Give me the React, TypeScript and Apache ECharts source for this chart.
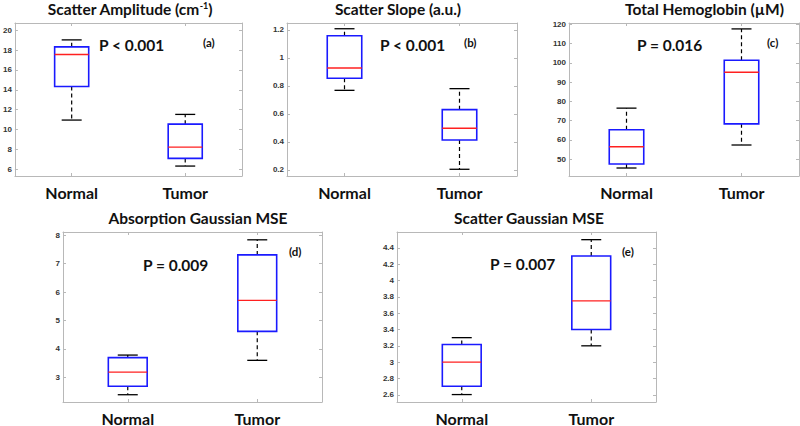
import React, { useEffect, useRef } from "react";
import * as echarts from "echarts";

const categories = ["Normal", "Tumor"];

// Box statistics: [lower whisker, Q1, median, Q3, upper whisker]
const scatterAmplitudeNormal = [10.96, 14.34, 17.56, 18.33, 19.03];
const scatterAmplitudeTumor = [6.33, 7.1, 8.24, 10.55, 11.53];
const scatterSlopeNormal = [0.769, 0.855, 0.929, 1.159, 1.209];
const scatterSlopeTumor = [0.205, 0.414, 0.498, 0.631, 0.781];
const totalHemoglobinNormal = [45.35, 47.4, 56.4, 65.2, 76.45];
const totalHemoglobinTumor = [57.3, 68.3, 95.1, 101.3, 117.6];
const absorptionMseNormal = [2.39, 2.69, 3.185, 3.694, 3.785];
const absorptionMseTumor = [3.6, 4.62, 5.71, 7.31, 7.84];
const scatterMseNormal = [2.603, 2.705, 3.0, 3.217, 3.3];
const scatterMseTumor = [3.2, 3.4, 3.75, 4.3, 4.5];

// Tick labels
const amplitudeTicks = [6, 8, 10, 12, 14, 16, 18, 20];
const slopeTicks = [0.2, 0.4, 0.6, 0.8, 1, 1.2];
const hemoglobinTicks = [50, 60, 70, 80, 90, 100, 110, 120];
const absorptionTicks = [3, 4, 5, 6, 7, 8];
const scatterMseTicks = [2.6, 2.8, 3, 3.2, 3.4, 3.6, 3.8, 4, 4.2, 4.4];

// Axis ranges
const amplitudeRange = [5.33, 20.73];
const slopeRange = [0.157, 1.25];
const hemoglobinRange = [41.2, 120.67];
const absorptionRange = [2.134, 8.115];
const scatterMseRange = [2.512, 4.594];

const titles = [
  "Scatter Amplitude (cm{sup|-1})",
  "Scatter Slope (a.u.)",
  "Total Hemoglobin (\u00b5M)",
  "Absorption Gaussian MSE",
  "Scatter Gaussian MSE",
];
const pValues = ["P < 0.001", "P < 0.001", "P = 0.016", "P = 0.009", "P = 0.007"];
const letters = ["(a)", "(b)", "(c)", "(d)", "(e)"];

const panels = [
  { normal: scatterAmplitudeNormal, tumor: scatterAmplitudeTumor, ticks: amplitudeTicks, range: amplitudeRange,
    grid: [11, 23, 231, 153], titleAt: [130, 9], pAt: [99, 44.5], letterAt: [203, 42] },
  { normal: scatterSlopeNormal, tumor: scatterSlopeTumor, ticks: slopeTicks, range: slopeRange,
    grid: [287, 23, 230, 153], titleAt: [398, 9], pAt: [380, 44.5], letterAt: [464, 42] },
  { normal: totalHemoglobinNormal, tumor: totalHemoglobinTumor, ticks: hemoglobinTicks, range: hemoglobinRange,
    grid: [569, 23, 230, 153], titleAt: [704.5, 9], pAt: [637, 44.5], letterAt: [767, 42] },
  { normal: absorptionMseNormal, tumor: absorptionMseTumor, ticks: absorptionTicks, range: absorptionRange,
    grid: [63, 232, 259, 172], titleAt: [198, 218], pAt: [143, 264.5], letterAt: [289, 251] },
  { normal: scatterMseNormal, tumor: scatterMseTumor, ticks: scatterMseTicks, range: scatterMseRange,
    grid: [397, 232, 259, 172], titleAt: [529, 218], pAt: [490, 264], letterAt: [622, 251] },
];

const AX = "#b8b8b8";
const FONT = "Lato";

function renderBox(params: any, api: any) {
  const idx = api.value(0);
  const lo = api.value(1);
  const q1 = api.value(2);
  const med = api.value(3);
  const q3 = api.value(4);
  const hi = api.value(5);
  const band = api.size([1, 0])[0];
  const half = band * 0.15;
  const cap = 10;
  const pLo = api.coord([idx, lo]);
  const pQ1 = api.coord([idx, q1]);
  const pMed = api.coord([idx, med]);
  const pQ3 = api.coord([idx, q3]);
  const pHi = api.coord([idx, hi]);
  const cx = pMed[0];
  const dash = { stroke: "#000", lineWidth: 1.2, lineDash: [4, 3] };
  const solid = { stroke: "#000", lineWidth: 1.3 };
  return {
    type: "group",
    children: [
      { type: "line", shape: { x1: cx, y1: pQ3[1], x2: cx, y2: pHi[1] }, style: dash },
      { type: "line", shape: { x1: cx, y1: pQ1[1], x2: cx, y2: pLo[1] }, style: dash },
      { type: "line", shape: { x1: cx - cap, y1: pHi[1], x2: cx + cap, y2: pHi[1] }, style: solid },
      { type: "line", shape: { x1: cx - cap, y1: pLo[1], x2: cx + cap, y2: pLo[1] }, style: solid },
      {
        type: "rect",
        shape: { x: cx - half, y: pQ3[1], width: half * 2, height: pQ1[1] - pQ3[1] },
        style: { fill: "none", stroke: "#1a1aff", lineWidth: 1.6 },
      },
      { type: "line", shape: { x1: cx - half, y1: pMed[1], x2: cx + half, y2: pMed[1] },
        style: { stroke: "#ff2020", lineWidth: 1.4 } },
    ],
  };
}

export default function App() {
  const ref = useRef<HTMLDivElement>(null);
  useEffect(() => {
    if (!ref.current) return;
    const chart = echarts.init(ref.current, undefined, { renderer: "svg" });
    const grid: any[] = [];
    const xAxis: any[] = [];
    const yAxis: any[] = [];
    const series: any[] = [];
    const graphic: any[] = [];
    panels.forEach((p, i) => {
      grid.push({ left: p.grid[0], top: p.grid[1], width: p.grid[2], height: p.grid[3] });
      const tickStyle = { lineStyle: { color: AX, width: 1 } };
      xAxis.push({
        type: "category", gridIndex: i, data: categories, position: "bottom", boundaryGap: true,
        axisLine: { show: true, lineStyle: { color: AX, width: 1 } },
        axisTick: { show: true, inside: true, alignWithLabel: true, length: 3, ...tickStyle },
        axisLabel: { margin: 8, fontFamily: FONT, fontWeight: "bold", fontSize: 16, color: "#111" },
        splitLine: { show: false },
      });
      xAxis.push({
        type: "category", gridIndex: i, data: categories, position: "top", boundaryGap: true,
        axisLine: { show: true, lineStyle: { color: AX, width: 1 } },
        axisTick: { show: true, inside: true, alignWithLabel: true, length: 3, ...tickStyle },
        axisLabel: { show: false },
        splitLine: { show: false },
      });
      yAxis.push({
        type: "value", gridIndex: i, position: "left", min: p.range[0], max: p.range[1],
        axisLine: { show: true, lineStyle: { color: AX, width: 1 } },
        axisTick: { show: true, inside: true, length: 3, customValues: p.ticks, ...tickStyle },
        axisLabel: { customValues: p.ticks, margin: 3, fontSize: 8, fontWeight: "bold",
          color: "#333", fontFamily: "Liberation Sans" },
        splitLine: { show: false },
      });
      yAxis.push({
        type: "value", gridIndex: i, position: "right", min: p.range[0], max: p.range[1],
        axisLine: { show: true, lineStyle: { color: AX, width: 1 } },
        axisTick: { show: true, inside: true, length: 3, customValues: p.ticks, ...tickStyle },
        axisLabel: { show: false },
        splitLine: { show: false },
      });
      series.push({
        type: "custom",
        xAxisIndex: i * 2,
        yAxisIndex: i * 2,
        renderItem: renderBox,
        encode: { x: 0, y: [1, 2, 3, 4, 5] },
        data: [
          [0, ...p.normal],
          [1, ...p.tumor],
        ],
      });
      graphic.push({
        type: "text", x: p.titleAt[0], y: p.titleAt[1],
        style: {
          text: titles[i], fontFamily: FONT, fontWeight: "bold", fontSize: 15.5, fill: "#111",
          lineHeight: 16, align: "center", verticalAlign: "middle",
          rich: { sup: { fontFamily: FONT, fontWeight: "bold", fontSize: 9, verticalAlign: "top", lineHeight: 10, fill: "#111" } },
        },
      });
      graphic.push({
        type: "text", x: p.pAt[0], y: p.pAt[1],
        style: { text: pValues[i], fontFamily: FONT, fontWeight: "bold", fontSize: 15.5, fill: "#111",
          align: "left", verticalAlign: "middle" },
      });
      graphic.push({
        type: "text", x: p.letterAt[0], y: p.letterAt[1],
        style: { text: letters[i], fontFamily: FONT, fontWeight: "bold", fontSize: 11.5, fill: "#111",
          align: "left", verticalAlign: "middle" },
      });
    });
    chart.setOption({
      animation: false,
      backgroundColor: "#ffffff",
      grid,
      xAxis,
      yAxis,
      series,
      graphic,
    });
    return () => chart.dispose();
  }, []);
  return (
    <div
      ref={ref}
      style={{ position: "absolute", left: 0, top: 0, width: 800, height: 426 }}
    />
  );
}
